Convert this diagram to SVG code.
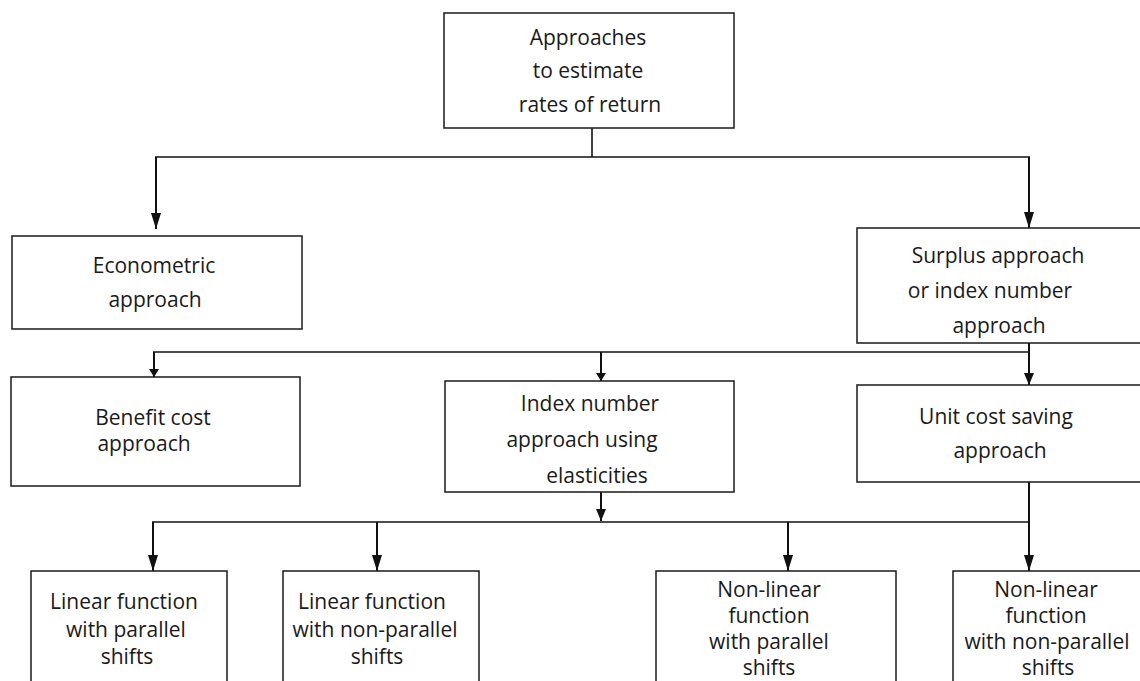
<svg xmlns="http://www.w3.org/2000/svg" width="1140" height="681" viewBox="0 0 1140 681">
<style>
.box{fill:#fff;stroke:#1a1a1a;stroke-width:1.5}
.t{font-family:"Open Sans","Liberation Sans",sans-serif;font-size:21px;fill:#1a1a1a;text-anchor:middle}
.c{stroke:#111;stroke-width:1.6;fill:none}
.a{stroke:#111;stroke-width:2;fill:none}
</style>
<defs>
<marker id="big" markerUnits="userSpaceOnUse" viewBox="0 0 16 10" refX="16" refY="5" markerWidth="16" markerHeight="10" orient="auto"><path d="M0,0 L16,5 L0,10 z" fill="#111"/></marker>
<marker id="mid" markerUnits="userSpaceOnUse" viewBox="0 0 12 10" refX="12" refY="5" markerWidth="12" markerHeight="10" orient="auto"><path d="M0,0 L12,5 L0,10 z" fill="#111"/></marker>
<marker id="small" markerUnits="userSpaceOnUse" viewBox="0 0 8 10" refX="8" refY="5" markerWidth="8" markerHeight="10" orient="auto"><path d="M0,0 L8,5 L0,10 z" fill="#111"/></marker>
</defs>
<rect width="1140" height="681" fill="#fff"/>
<g id="connectors">
<line class="c" x1="592" y1="128" x2="592" y2="157"/>
<line class="c" x1="155" y1="157" x2="1030" y2="157"/>
<line class="a" x1="156" y1="157" x2="156" y2="229" marker-end="url(#big)"/>
<line class="a" x1="1029" y1="157" x2="1029" y2="228" marker-end="url(#big)"/>
<line class="c" x1="153" y1="352" x2="1030" y2="352"/>
<line class="a" x1="1029" y1="343" x2="1029" y2="385" marker-end="url(#mid)"/>
<line class="a" x1="154" y1="352" x2="154" y2="377" marker-end="url(#small)"/>
<line class="a" x1="601" y1="352" x2="601" y2="381" marker-end="url(#small)"/>
<line class="a" x1="601" y1="492" x2="601" y2="521" marker-end="url(#mid)"/>
<line class="c" x1="152" y1="522" x2="1030" y2="522"/>
<line class="a" x1="1029" y1="482" x2="1029" y2="571" marker-end="url(#big)"/>
<line class="a" x1="153" y1="522" x2="153" y2="571" marker-end="url(#big)"/>
<line class="a" x1="377" y1="522" x2="377" y2="571" marker-end="url(#big)"/>
<line class="a" x1="788" y1="522" x2="788" y2="571" marker-end="url(#big)"/>
</g>
<g id="root">
<rect class="box" x="444" y="13" width="290" height="115"/>
<text class="t" x="588" y="45">Approaches</text>
<text class="t" x="588" y="78">to estimate</text>
<text class="t" x="590" y="112">rates of return</text>
</g>
<g id="econometric">
<rect class="box" x="12" y="236" width="290" height="93"/>
<text class="t" x="154" y="273">Econometric</text>
<text class="t" x="155" y="307">approach</text>
</g>
<g id="surplus">
<rect class="box" x="857" y="228" width="290" height="115"/>
<text class="t" x="998" y="263">Surplus approach</text>
<text class="t" x="990" y="298">or index number</text>
<text class="t" x="999" y="333">approach</text>
</g>
<g id="benefit">
<rect class="box" x="11" y="377" width="289" height="109"/>
<text class="t" x="153" y="425">Benefit cost</text>
<text class="t" x="144" y="451">approach</text>
</g>
<g id="index">
<rect class="box" x="445" y="381" width="289" height="111"/>
<text class="t" x="590" y="411">Index number</text>
<text class="t" x="582" y="447">approach using</text>
<text class="t" x="597" y="483">elasticities</text>
</g>
<g id="unitcost">
<rect class="box" x="857" y="385" width="290" height="97"/>
<text class="t" x="996" y="424">Unit cost saving</text>
<text class="t" x="1000" y="458">approach</text>
</g>
<g id="linear-parallel">
<rect class="box" x="31" y="571" width="196" height="120"/>
<text class="t" x="124" y="609">Linear function</text>
<text class="t" x="126" y="637">with parallel</text>
<text class="t" x="127" y="664">shifts</text>
</g>
<g id="linear-nonparallel">
<rect class="box" x="283" y="571" width="196" height="120"/>
<text class="t" x="372" y="609">Linear function</text>
<text class="t" x="375" y="637">with non-parallel</text>
<text class="t" x="377" y="664">shifts</text>
</g>
<g id="nonlinear-parallel">
<rect class="box" x="656" y="571" width="240" height="120"/>
<text class="t" x="769" y="597">Non-linear</text>
<text class="t" x="769" y="623">function</text>
<text class="t" x="769" y="649">with parallel</text>
<text class="t" x="769" y="675">shifts</text>
</g>
<g id="nonlinear-nonparallel">
<rect class="box" x="953" y="571" width="200" height="120"/>
<text class="t" x="1046" y="597">Non-linear</text>
<text class="t" x="1046" y="623">function</text>
<text class="t" x="1047" y="649">with non-parallel</text>
<text class="t" x="1048" y="675">shifts</text>
</g>
</svg>
